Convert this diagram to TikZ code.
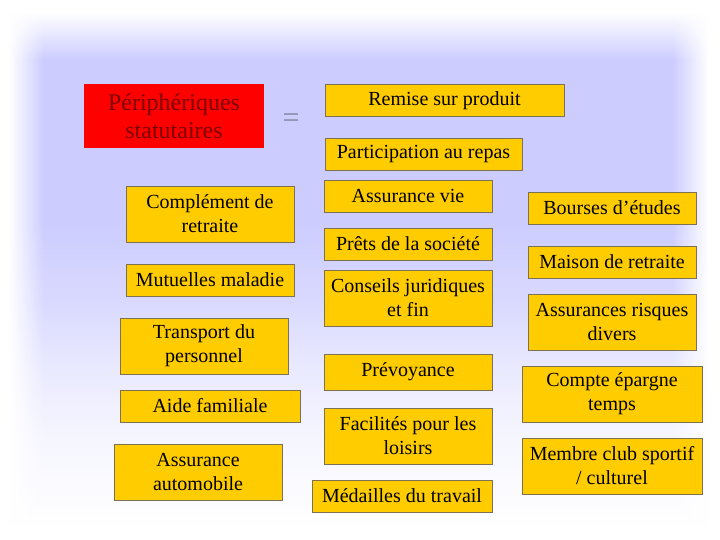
\documentclass[tikz,border=0pt]{standalone}
\usepackage{fontspec}
\setmainfont{Liberation Serif}
\usetikzlibrary{fadings}
\definecolor{lav}{RGB}{204,204,255}
\definecolor{boxy}{RGB}{255,204,0}
\definecolor{bordc}{RGB}{125,112,85}
\definecolor{redtxt}{RGB}{125,0,0}
\definecolor{eqc}{RGB}{135,135,160}
\tikzfading[name=fadeR, left color=transparent!0, right color=transparent!100]
\tikzfading[name=fadeL, left color=transparent!100, right color=transparent!0]
\tikzset{
  ybox/.style={draw=bordc, fill=boxy, line width=0.9pt, align=center, inner sep=0pt,
    font=\fontsize{20}{24}\selectfont, text=black},
  w168/.style={minimum width=168pt},
  w180/.style={minimum width=180pt},
  h1/.style={minimum height=32pt},
  h2/.style={minimum height=56pt}
}
\begin{document}
\begin{tikzpicture}[x=1pt,y=1pt]
\useasboundingbox (0,0) rectangle (720,540);
% background (y up: 540 - pixel row)
\fill[white] (0,0) rectangle (720,540);
\shade[top color=white, bottom color=lav] (0,528) rectangle (720,480);
\fill[lav] (0,480.5) rectangle (720,319.5);
\shade[top color=lav, bottom color=lav!75!white] (0,320) rectangle (720,239.5);
\shade[top color=lav!75!white, bottom color=lav!42!white] (0,240) rectangle (720,169.5);
\shade[top color=lav!42!white, bottom color=lav!20!white] (0,170) rectangle (720,109.5);
\shade[top color=lav!20!white, bottom color=lav!6!white] (0,110) rectangle (720,39.5);
\shade[top color=lav!6!white, bottom color=white] (0,40) rectangle (720,10);
\fill[white] (0,0) rectangle (9,540);
\fill[white, path fading=fadeR] (9,0) rectangle (44,540);
\fill[white] (708,0) rectangle (720,540);
\fill[white, path fading=fadeL] (672,0) rectangle (708,540);
% title
\node[fill=red, inner sep=0pt, minimum width=180pt, minimum height=64pt, align=center,
  font=\fontsize{24}{28}\selectfont, text=redtxt] (peri) at (174,424) {Périphériques\\statutaires};
\node[font=\fontsize{30}{30}\selectfont, text=eqc, inner sep=0pt] (eq) at (291,419) {=};
\node[ybox, minimum width=239pt, h1] (remise) at (444.5,439.5) {Remise sur produit};
\node[ybox, minimum width=197pt, h1] (repas) at (423.5,385.5) {Participation au repas};
% left column
\node[ybox, w168, h2] (compl) at (210,326) {Complément de\\retraite};
\node[ybox, w168, h1] (mutu) at (210,260) {Mutuelles maladie};
\node[ybox, w168, h2] (transp) at (204,194) {Transport du\\personnel};
\node[ybox, w180, h1] (aide) at (210,134) {Aide familiale};
\node[ybox, w168, h2] (auto) at (198,68) {Assurance\\automobile};
% middle column
\node[ybox, w168, h1] (vie) at (408,344) {Assurance vie};
\node[ybox, w168, h1] (prets) at (408,296) {Prêts de la société};
\node[ybox, w168, h2] (conseils) at (408,242) {Conseils juridiques\\et fin};
\node[ybox, w168, minimum height=36pt] (prev) at (408,168) {Prévoyance};
\node[ybox, w168, h2] (loisirs) at (408,104) {Facilités pour les\\loisirs};
\node[ybox, w180, h1] (medailles) at (402,44) {Médailles du travail};
% right column
\node[ybox, w168, h1] (bourses) at (612,332) {Bourses d’études};
\node[ybox, w168, h1] (maison) at (612,278) {Maison de retraite};
\node[ybox, w168, h2] (risques) at (612,218) {Assurances risques\\divers};
\node[ybox, w180, h2] (compte) at (612,146) {Compte épargne\\temps};
\node[ybox, w180, h2] (club) at (612,74) {Membre club sportif\\/ culturel};
\end{tikzpicture}
\end{document}
